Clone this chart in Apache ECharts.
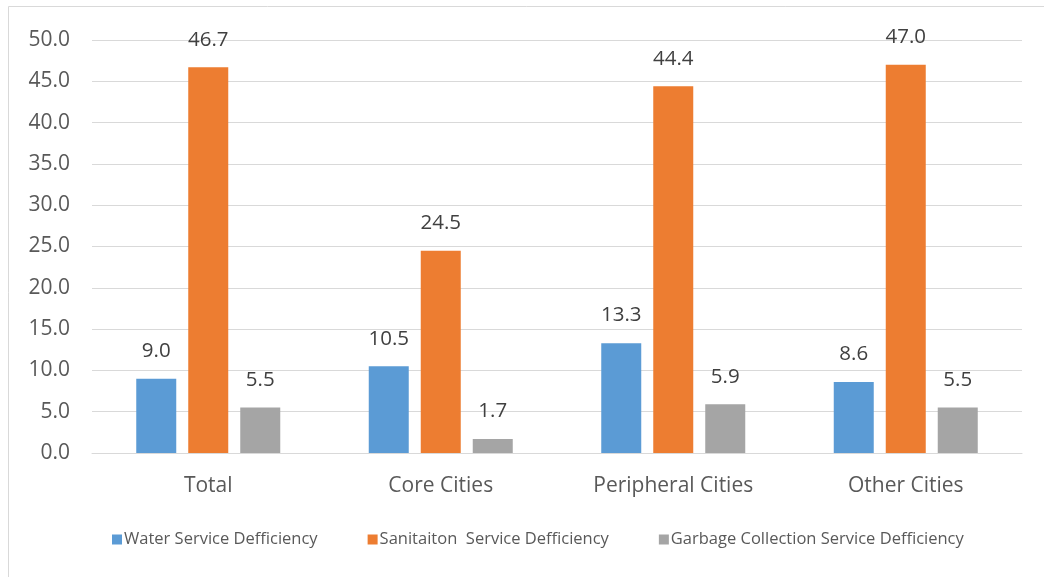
<!DOCTYPE html>
<html>
<head>
<meta charset="utf-8">
<script src="https://cdn.jsdelivr.net/npm/echarts@6/dist/echarts.min.js"></script>
<style>
html,body{margin:0;padding:0;background:#fff;}
#main{width:1044px;height:577px;}
</style>
</head>
<body>
<div id="main"></div>
<script>
var categories = ['Total', 'Core Cities', 'Peripheral Cities', 'Other Cities'];
var seriesNames = ['Water Service Defficiency', 'Sanitaiton  Service Defficiency', 'Garbage Collection Service Defficiency'];
var water = [9.0, 10.5, 13.3, 8.6];
var sanitation = [46.7, 24.5, 44.4, 47.0];
var garbage = [5.5, 1.7, 5.9, 5.5];
var colors = ['#5b9bd5', '#ed7d31', '#a5a5a5'];

var chart = echarts.init(document.getElementById('main'));

function bar(name, data, color) {
    return {
        name: name,
        type: 'bar',
        data: data,
        barWidth: 40,
        barGap: '30%',
        itemStyle: {color: color},
        label: {
            show: true,
            position: 'top',
            distance: 17,
            fontSize: 20.5,
            color: '#404040',
            fontFamily: 'Open Sans',
            formatter: function (p) { return p.value.toFixed(1); }
        }
    };
}

var option = {
    animation: false,
    backgroundColor: '#fff',
    graphic: [{
        type: 'rect',
        shape: {x: 8.5, y: 6.5, width: 1100, height: 700},
        style: {fill: 'none', stroke: '#d9d9d9', lineWidth: 1},
        silent: true
    }],
    legend: {
        bottom: 24,
        left: 107,
        itemWidth: 10,
        itemHeight: 10,
        itemGap: 50,
        icon: 'rect',
        textStyle: {fontSize: 16.5, color: '#595959', fontFamily: 'Open Sans', padding: [0, 0, 0, -3]},
        data: seriesNames
    },
    grid: {left: 92, right: 22, top: 40, bottom: 124},
    xAxis: {
        type: 'category',
        data: categories,
        axisLine: {lineStyle: {color: '#d9d9d9', width: 1}},
        axisTick: {show: false},
        axisLabel: {fontSize: 21, color: '#595959', margin: 23, fontFamily: 'Open Sans'}
    },
    yAxis: {
        type: 'value',
        min: 0,
        max: 50,
        interval: 5,
        axisLine: {show: false},
        axisTick: {show: false},
        splitLine: {lineStyle: {color: '#d9d9d9', width: 1}},
        axisLabel: {
            fontSize: 21, color: '#595959', margin: 22, fontFamily: 'Open Sans',
            formatter: function (v) { return v.toFixed(1); }
        }
    },
    series: [
        bar(seriesNames[0], water, colors[0]),
        bar(seriesNames[1], sanitation, colors[1]),
        bar(seriesNames[2], garbage, colors[2])
    ]
};
chart.setOption(option);
</script>
</body>
</html>
